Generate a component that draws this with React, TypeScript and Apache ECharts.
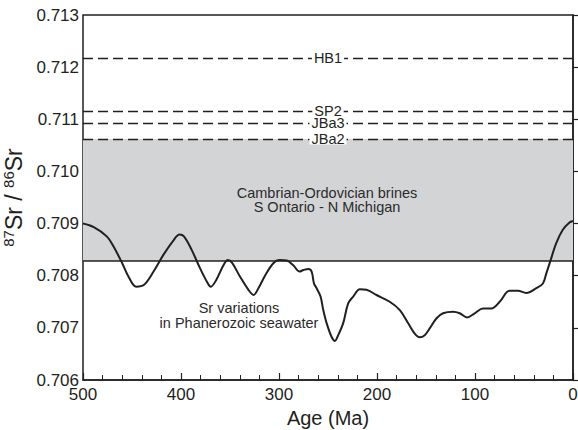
import React, { useEffect, useRef } from "react";
import * as echarts from "echarts";

const ages = [500, 489, 475.5, 468.8, 460, 453.5, 445.7, 438, 428, 418, 407.6, 401.5, 396.8, 389, 380.5, 373.7, 369.6, 364, 356.7, 352.3, 348, 339.7, 331.2, 326, 321, 314, 305.8, 299.7, 292, 285.4, 279, 275, 270, 266.7, 264.3, 261.6, 257.6, 254.8, 251.4, 246.4, 243, 239.6, 234.5, 229.4, 224.3, 217.5, 210.7, 200.5, 187, 176.7, 168.2, 161.5, 156.4, 151.3, 146.2, 139.4, 132.6, 122.4, 115.6, 108.1, 100.3, 91.8, 83.3, 74.8, 64.7, 56.2, 47.7, 37.5, 30.7, 27.3, 23.3, 17.2, 10.4, 3.6, 0];
const srRatio = [0.709, 0.70893, 0.70875, 0.70856, 0.70824, 0.70798, 0.70779, 0.70782, 0.70808, 0.7084, 0.70868, 0.70879, 0.70875, 0.70849, 0.70814, 0.70789, 0.70779, 0.70792, 0.7082, 0.7083, 0.70825, 0.70798, 0.70773, 0.70763, 0.70776, 0.70801, 0.70824, 0.7083, 0.70829, 0.7082, 0.70808, 0.70811, 0.70813, 0.70808, 0.70785, 0.70776, 0.7076, 0.70734, 0.70709, 0.70683, 0.70675, 0.70686, 0.70709, 0.70747, 0.7076, 0.70774, 0.70773, 0.70763, 0.7075, 0.70734, 0.70709, 0.70689, 0.70682, 0.70686, 0.70699, 0.70718, 0.70728, 0.70731, 0.70728, 0.7072, 0.70728, 0.70737, 0.70737, 0.7075, 0.70771, 0.70771, 0.70767, 0.70776, 0.70785, 0.70804, 0.70827, 0.70862, 0.70888, 0.70902, 0.70905];

const refNames = ["HB1", "SP2", "JBa3", "JBa2"];
const refValues = [0.71218, 0.71116, 0.71093, 0.71062];
const brineBand = [0.70828, 0.71062];

const yTicks = [0.706, 0.707, 0.708, 0.709, 0.71, 0.711, 0.712, 0.713];

const INK = "#231f20";
const FONT = "'Liberation Sans', Arial, sans-serif";

export default function App() {
  const ref = useRef<HTMLDivElement>(null);
  useEffect(() => {
    if (!ref.current) return;
    const chart = echarts.init(ref.current, null, { renderer: "svg" });
    const markLineData: any[] = refNames.map((n, i) => ({
      name: n,
      yAxis: refValues[i],
      lineStyle: { type: [10, 5], width: 1.4, color: INK },
      label: {
        show: true,
        position: "middle",
        formatter: n,
        fontSize: 14.5,
        lineHeight: 11,
        fontFamily: FONT,
        color: INK,
        backgroundColor: "#fff",
        padding: [0, 2],
        distance: 0,
        verticalAlign: "middle",
        align: "center",
      },
    }));
    markLineData.push({
      name: "band",
      yAxis: brineBand[0],
      lineStyle: { type: "solid", width: 1.5, color: INK },
      label: { show: false },
    });
    chart.setOption({
      animation: false,
      textStyle: { fontFamily: FONT },
      grid: {
        left: 83,
        right: 5,
        top: 15,
        bottom: 50,
        containLabel: false,
        outerBoundsMode: "none",
        show: true,
        borderColor: INK,
        borderWidth: 1.5,
        backgroundColor: "transparent",
      },
      xAxis: {
        type: "value",
        min: 0,
        max: 500,
        interval: 100,
        inverse: true,
        name: "Age (Ma)",
        nameLocation: "middle",
        nameGap: 26,
        nameTextStyle: { fontSize: 20, color: INK, fontFamily: FONT },
        axisLine: { show: true, lineStyle: { color: INK, width: 1.5 } },
        axisTick: { show: true, inside: true, length: 7, lineStyle: { color: INK, width: 1.2 } },
        minorTick: { show: true, splitNumber: 5, length: 5, lineStyle: { color: INK, width: 1 } },
        splitLine: { show: false },
        axisLabel: { fontSize: 17, color: INK, margin: 6, fontFamily: FONT },
      },
      yAxis: {
        type: "value",
        min: yTicks[0],
        max: yTicks[yTicks.length - 1],
        interval: 0.001,
        name: "{sup|87}{main|Sr / }{sup|86}{main|Sr}",
        nameLocation: "middle",
        nameGap: 48,
        nameTextStyle: {
          color: INK,
          fontFamily: FONT,
          rich: {
            main: { fontSize: 23, color: INK, fontFamily: FONT, verticalAlign: "bottom", lineHeight: 25 },
            sup: { fontSize: 15, color: INK, fontFamily: FONT, verticalAlign: "top", lineHeight: 15 },
          },
        },
        axisLine: { show: true, lineStyle: { color: INK, width: 1.5 } },
        axisTick: { show: true, inside: true, length: 6, lineStyle: { color: INK, width: 1.2 } },
        splitLine: { show: false },
        axisLabel: {
          fontSize: 17,
          color: INK,
          margin: 4,
          fontFamily: FONT,
          formatter: (v: number) => v.toFixed(3),
        },
      },
      series: [
        {
          type: "line",
          data: [],
          z: 1,
          silent: true,
          markArea: {
            silent: true,
            itemStyle: { color: "#d3d4d6" },
            data: [[{ yAxis: brineBand[0] }, { yAxis: brineBand[1] }]],
          },
        },
        {
          type: "line",
          z: 5,
          data: ages.map((a, i) => [a, srRatio[i]]),
          smooth: 0.35,
          showSymbol: false,
          lineStyle: { color: INK, width: 2 },
          markLine: {
            silent: true,
            symbol: ["none", "none"],
            precision: 5,
            data: markLineData,
          },
        },
      ],
      graphic: [
        {
          type: "text",
          x: 327,
          y: 200,
          z: 10,
          style: {
            text: "Cambrian-Ordovician brines\nS Ontario - N Michigan",
            fontSize: 14.5,
            lineHeight: 14,
            fontFamily: FONT,
            fill: "#2b2b2b",
            align: "center",
            verticalAlign: "middle",
          },
        },
        {
          type: "text",
          x: 239,
          y: 315.5,
          z: 10,
          style: {
            text: "Sr variations\nin Phanerozoic seawater",
            fontSize: 14.5,
            lineHeight: 15.5,
            fontFamily: FONT,
            fill: "#2b2b2b",
            align: "center",
            verticalAlign: "middle",
          },
        },
      ],
    });
    return () => chart.dispose();
  }, []);
  return <div ref={ref} style={{ width: 578, height: 430, position: "absolute", left: 0, top: 0 }} />;
}
